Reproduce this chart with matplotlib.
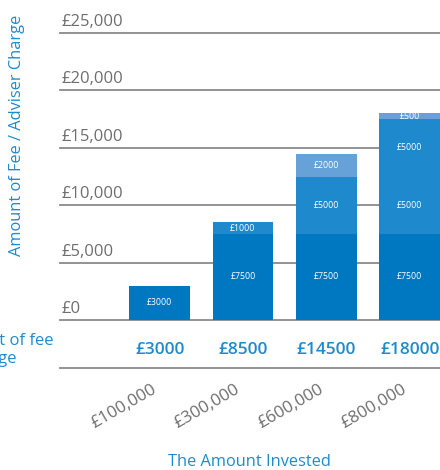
import matplotlib
matplotlib.use("Agg")
import matplotlib.pyplot as plt
import matplotlib.transforms as mtransforms
import numpy as np

plt.rcParams['font.family'] = ['Open Sans', 'DejaVu Sans']

# ---- data ----
invested = ["£100,000", "£300,000", "£600,000", "£800,000"]
# stacked segments per bar (bottom -> top)
segments = [
    [3000],
    [7500, 1000],
    [7500, 5000, 2000],
    [7500, 5000, 5000, 500],
]
# colour shade index per segment (0 dark, 1 mid, 2 light)
shades = [
    [0],
    [0, 1],
    [0, 1, 2],
    [0, 1, 1, 2],
]
ytick_vals = [0, 5000, 10000, 15000, 20000, 25000]
ytick_labels = ["£0", "£5,000", "£10,000", "£15,000", "£20,000", "£25,000"]

palette = ["#0077C1", "#1F89CD", "#66A2D8"]
blue_text = "#1E8BCD"
grey_text = "#6E6E6E"

W, H = 440, 470
fig = plt.figure(figsize=(W / 100, H / 100), dpi=100)
ax = fig.add_axes([60 / W, (H - 320) / H, 380 / W, 287 / H])

x = np.arange(len(invested))
bw = 0.73
for i, (segs, shs) in enumerate(zip(segments, shades)):
    bottom = 0
    for v, s in zip(segs, shs):
        ax.bar(x[i], v, bw, bottom=bottom, color=palette[s], zorder=3, linewidth=0)
        ax.text(x[i], bottom + v / 2, f"£{v}", ha='center', va='center',
                color='white', fontsize=6.3, zorder=4)
        bottom += v

ax.set_xlim(-1.195, 3 + bw / 2)
ax.set_ylim(0, 25000)

for s in ax.spines.values():
    s.set_visible(False)
for yv in ytick_vals:
    ax.axhline(yv, color="#8a8a8a", lw=1.3, zorder=1, clip_on=False)

ax.set_yticks(ytick_vals)
ax.set_yticklabels(ytick_labels)
ax.tick_params(axis='y', length=0, pad=0, labelsize=12, labelcolor=grey_text)
offset_y = mtransforms.ScaledTranslation(1 / 100, 13 / 100, fig.dpi_scale_trans)
for lab in ax.get_yticklabels():
    lab.set_horizontalalignment('left')
    lab.set_transform(lab.get_transform() + offset_y)

ax.set_xticks(x)
ax.set_xticklabels(invested, rotation=30, ha='right', va='top',
                   rotation_mode='anchor')
ax.tick_params(axis='x', length=0, pad=44, labelsize=12.3, labelcolor=grey_text)
offset_x = mtransforms.ScaledTranslation(-8 / 100, 0, fig.dpi_scale_trans)
for lab in ax.get_xticklabels():
    lab.set_transform(lab.get_transform() + offset_x)

# totals row
trans = mtransforms.blended_transform_factory(ax.transData, ax.transAxes)
for i, segs in enumerate(segments):
    ax.text(x[i], -30 / 287, f"£{sum(segs)}", transform=trans, ha='center',
            va='center', color=blue_text, fontsize=12.5, fontweight='semibold')
ax.plot([0, 1], [-48 / 287, -48 / 287], transform=ax.transAxes, color="#8a8a8a",
        lw=1.3, clip_on=False)

fig.text(53 / W, 1 - 350 / H, "Amount of fee\nor charge", ha='right', va='center',
         multialignment='left', color=blue_text, fontsize=12, linespacing=1.15)

fig.text(17 / W, 1 - 135 / H, "Amount of Fee / Adviser Charge", rotation=90,
         ha='center', va='center', color=blue_text, fontsize=11.8)
fig.text(249 / W, 1 - 462 / H, "The Amount Invested", ha='center', va='center',
         color=blue_text, fontsize=11.8)

fig.savefig("out.png", dpi=100)
